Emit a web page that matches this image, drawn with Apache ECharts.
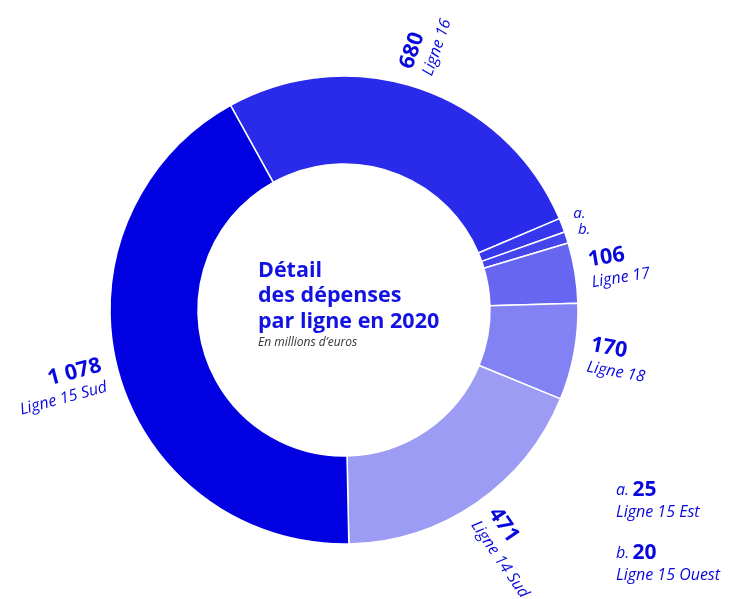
<!DOCTYPE html>
<html>
<head>
<meta charset="utf-8">
<script src="https://cdn.jsdelivr.net/npm/echarts@6/dist/echarts.min.js"></script>
<style>
  html, body { margin: 0; padding: 0; background: #fff; }
  #chart { width: 730px; height: 599px; }
</style>
</head>
<body>
<div id="chart"></div>
<script>
// Dépenses 2020 par ligne (millions d'euros), dans l'ordre horaire
const lineNames  = ['Ligne 16', 'Ligne 15 Est', 'Ligne 15 Ouest', 'Ligne 17', 'Ligne 18', 'Ligne 14 Sud', 'Ligne 15 Sud'];
const lineSpend  = [680, 25, 20, 106, 170, 471, 1078];
// Renvoi pour les tranches trop fines pour porter une étiquette
const noteKeys   = ['', 'a.', 'b.', '', '', '', ''];
const sliceColors = ['#2a2aea', '#3737ed', '#4545ee', '#6666f1', '#8282f5', '#9c9cf5', '#0000e1'];
const titleLines = ['Détail', 'des dépenses', 'par ligne en 2020'];
const subtitle   = 'En millions d’euros';

const FONT = '"Open Sans", "Noto Sans", sans-serif';
const BLUE = '#0808dc';

function fmt(v) {
  return String(v).replace(/\B(?=(\d{3})+(?!\d))/g, ' ');
}

// Décalages fins des étiquettes (padding dans le repère tourné du texte)
const labelPadding = { 0: [0, 0, 20, 0], 1: [0, 0, 14, 0], 2: [0, 0, 8, 0] };

const pieData = lineNames.map((name, i) => {
  const item = { name, value: lineSpend[i], itemStyle: { color: sliceColors[i] } };
  if (noteKeys[i]) {
    item.label = {
      rotate: 0,
      formatter: '{k|' + noteKeys[i] + '}',
      padding: labelPadding[i]
    };
    item.labelLine = { length: 12 };
  } else if (labelPadding[i]) {
    item.label = { padding: labelPadding[i] };
  }
  return item;
});

const labelRich = {
  v: { fontFamily: FONT, fontWeight: 'bold', fontSize: 21.5, color: BLUE, lineHeight: 25 },
  n: { fontFamily: FONT, fontStyle: 'italic', fontSize: 16, color: BLUE, lineHeight: 20 },
  k: { fontFamily: FONT, fontStyle: 'italic', fontSize: 15, color: BLUE, lineHeight: 16 }
};

// Notes a. / b. en bas à droite
const notes = [];
let noteTop = 480;
lineNames.forEach((name, i) => {
  if (!noteKeys[i]) return;
  notes.push({
    type: 'text',
    left: 616,
    top: noteTop,
    silent: true,
    style: {
      text: '{k|' + noteKeys[i] + '} {v|' + fmt(lineSpend[i]) + '}\n{n|' + name + '}',
      rich: {
        k: { fontFamily: FONT, fontStyle: 'italic', fontSize: 16, fill: BLUE, lineHeight: 22 },
        v: { fontFamily: FONT, fontWeight: 'bold', fontSize: 21, fill: BLUE, lineHeight: 22 },
        n: { fontFamily: FONT, fontStyle: 'italic', fontSize: 16, fill: BLUE, lineHeight: 22 }
      }
    }
  });
  noteTop += 63;
});

const chart = echarts.init(document.getElementById('chart'), null, { renderer: 'canvas' });

chart.setOption({
  animation: false,
  backgroundColor: '#fff',
  graphic: [
    {
      type: 'text',
      left: 258,
      top: 258,
      silent: true,
      style: {
        text: titleLines.join('\n'),
        fontFamily: FONT,
        fontWeight: 'bold',
        fontSize: 21.5,
        lineHeight: 25.5,
        fill: '#1212e3'
      }
    },
    {
      type: 'text',
      left: 258,
      top: 335,
      silent: true,
      style: {
        text: subtitle,
        fontFamily: FONT,
        fontStyle: 'italic',
        fontSize: 12,
        lineHeight: 16,
        fill: '#333'
      }
    },
    ...notes
  ],
  series: [{
    type: 'pie',
    center: [344, 310],
    radius: [146, 234],
    startAngle: 119,
    clockwise: true,
    avoidLabelOverlap: false,
    silent: true,
    itemStyle: { borderColor: '#fff', borderWidth: 1.5 },
    label: {
      show: true,
      position: 'outside',
      rotate: 'radial',
      distanceToLabelLine: 0,
      formatter: p => '{v|' + fmt(p.value) + '}\n{n|' + p.name + '}',
      rich: labelRich
    },
    labelLine: { show: false, length: 15, length2: 0 },
    emphasis: { disabled: true },
    data: pieData
  }]
});
</script>
</body>
</html>
